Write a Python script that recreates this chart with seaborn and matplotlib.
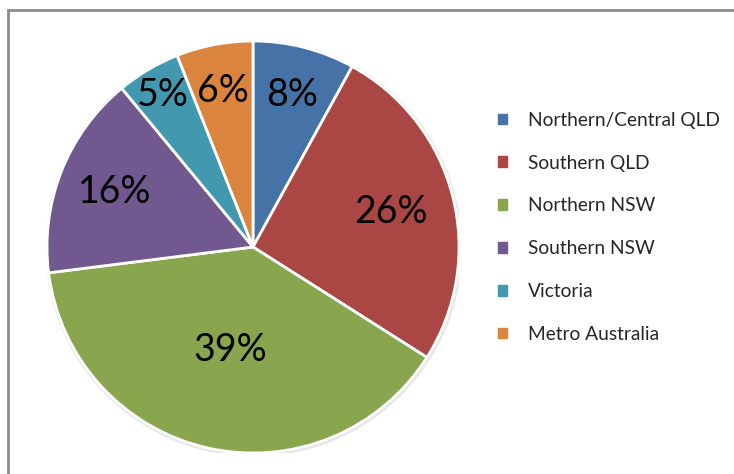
import matplotlib
matplotlib.use("Agg")
import matplotlib.pyplot as plt
import matplotlib.patches as mpatches
import numpy as np
import seaborn as sns

# data
regions = ["Northern/Central QLD", "Southern QLD", "Northern NSW",
           "Southern NSW", "Victoria", "Metro Australia"]
shares = [8, 26, 39, 16, 5, 6]
colors = ["#4572A7", "#AA4643", "#89A54E", "#71588F", "#4198AF", "#DB843D"]
# Excel "best fit" label radius per slice
label_radius = [0.76, 0.69, 0.51, 0.72, 0.86, 0.77]

sns.set_theme(style="white")
plt.rcParams["font.family"] = ["Lato", "DejaVu Sans"]

fig = plt.figure(figsize=(7.34, 4.74), dpi=100)
W, H = 734, 474
cx, cy, r = 253, 247, 206
ax = fig.add_axes([(cx - r) / W, (H - cy - r) / H, 2 * r / W, 2 * r / H])

# faint shadow ring
ax.add_patch(mpatches.Circle((0.004, -0.006), 1.008, color="#e6e6e6", zorder=0))

wedges, texts, autotexts = ax.pie(
    shares, colors=colors, startangle=90, counterclock=False,
    autopct="%1.0f%%", radius=1,
    wedgeprops=dict(edgecolor="white", linewidth=2),
    textprops=dict(fontsize=27, color="black"),
)
for w, t, rr in zip(wedges, autotexts, label_radius):
    ang = np.deg2rad((w.theta1 + w.theta2) / 2)
    t.set_position((rr * np.cos(ang), rr * np.sin(ang)))
ax.set_xlim(-1, 1)
ax.set_ylim(-1, 1)
ax.set_aspect("equal")
ax.axis("off")

handles = [mpatches.Patch(color=c, label=l) for c, l in zip(colors, regions)]
fig.legend(handles=handles, loc="upper left",
           bbox_to_anchor=(490 / W, 1 - 104 / H), frameon=False,
           fontsize=13.8, labelspacing=1.35, handlelength=0.47,
           handleheight=0.47, handletextpad=1.1, borderaxespad=0)

# outer chart frame (only left and top visible)
fig.patches.append(mpatches.Rectangle((8 / W, -0.1), 1.2, 1 - 10 / H + 0.1,
                                      transform=fig.transFigure, fill=False,
                                      edgecolor="#8c8c8c", linewidth=2))

fig.savefig("out.png", dpi=100)
